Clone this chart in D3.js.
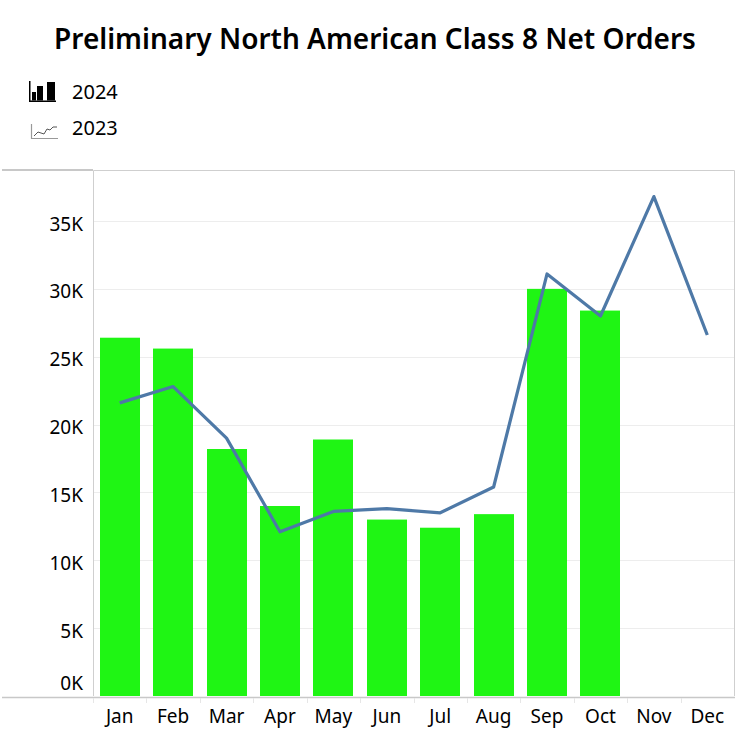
<!DOCTYPE html>
<html>
<head>
<meta charset="utf-8">
<script src="https://cdn.jsdelivr.net/npm/d3@7"></script>
<style>
  body { margin: 0; background: #fff; }
  text { font-family: "Noto Sans", "Open Sans", sans-serif; fill: #000; }
</style>
</head>
<body>
<div id="chart"></div>
<script>
const months = ["Jan", "Feb", "Mar", "Apr", "May", "Jun", "Jul", "Aug", "Sep", "Oct", "Nov", "Dec"];
// 2024 net orders (bars), Jan-Oct
const orders2024 = [26400, 25600, 18200, 14000, 18900, 13000, 12400, 13400, 30000, 28400];
// 2023 net orders (line)
const orders2023 = [21600, 22800, 19000, 12100, 13600, 13800, 13500, 15400, 31100, 28000, 36800, 26600];
const yTicks = [0, 5000, 10000, 15000, 20000, 25000, 30000, 35000];

const W = 749, H = 749;
const plotL = 93, plotR = 734, plotT = 170, plotB = 696;
const font = "'Noto Sans', 'Open Sans', sans-serif";

const svg = d3.select("#chart").append("svg")
  .attr("width", W)
  .attr("height", H);

// title
svg.append("text")
  .attr("x", 375)
  .attr("y", 49)
  .attr("text-anchor", "middle")
  .attr("font-size", 28)
  .attr("font-weight", 600)
  .text("Preliminary North American Class 8 Net Orders");

// legend
const legend = svg.append("g");
const barIcon = legend.append("g").attr("transform", "translate(29,81)");
barIcon.append("rect").attr("x", 0).attr("y", 0).attr("width", 1.5).attr("height", 21).attr("fill", "#000");
barIcon.append("rect").attr("x", 0).attr("y", 19.5).attr("width", 27).attr("height", 1.5).attr("fill", "#000");
[[3, 11, 4], [8, 5, 6], [18, 1, 8]].forEach(([bx, by, bw]) => {
  barIcon.append("rect").attr("x", bx).attr("y", by).attr("width", bw).attr("height", 19.5 - by).attr("fill", "#000");
});
legend.append("text").attr("x", 72).attr("y", 99).attr("font-size", 20).text("2024");

const lineIcon = legend.append("g").attr("transform", "translate(31,124)");
lineIcon.append("path")
  .attr("d", "M0.5,0 V14.5 H27")
  .attr("fill", "none").attr("stroke", "#999").attr("stroke-width", 1.2);
lineIcon.append("path")
  .attr("d", "M3,12 L7,8 L10,9 L13,10 L16,5 L19,6 L22,3 L26,3")
  .attr("fill", "none").attr("stroke", "#555").attr("stroke-width", 1);
legend.append("text").attr("x", 72).attr("y", 135).attr("font-size", 20).text("2023");

// scales
const x = d3.scaleBand().domain(months).range([plotL, plotR]).paddingInner(0.25).paddingOuter(0.125);
const step = x.step();
// 35K sits at y=221 in the reference
const y = d3.scaleLinear().domain([0, 35000]).range([plotB, 221]);

// gridlines
svg.append("g")
  .selectAll("line")
  .data(yTicks.slice(1))
  .join("line")
  .attr("x1", plotL)
  .attr("x2", plotR)
  .attr("y1", d => Math.round(y(d)) + 0.5)
  .attr("y2", d => Math.round(y(d)) + 0.5)
  .attr("stroke", "#ededed")
  .attr("stroke-width", 1);

// frame
svg.append("line").attr("x1", 2).attr("x2", plotL).attr("y1", plotT).attr("y2", plotT)
  .attr("stroke", "#c8c8c8").attr("stroke-width", 2);
svg.append("path")
  .attr("d", `M${plotL + 0.5},${plotB} V${plotT + 0.5} H${plotR + 0.5} V${plotB}`)
  .attr("fill", "none").attr("stroke", "#cfcfcf").attr("stroke-width", 1);

// bars
svg.append("g")
  .selectAll("rect")
  .data(orders2024)
  .join("rect")
  .attr("x", (d, i) => Math.round(x(months[i]) + (x.bandwidth() - 40) / 2))
  .attr("y", d => y(d))
  .attr("width", 40)
  .attr("height", d => plotB - y(d))
  .attr("fill", "#1ff514");

// line
const line = d3.line()
  .x((d, i) => x(months[i]) + x.bandwidth() / 2)
  .y(d => y(d));
svg.append("path")
  .datum(orders2023)
  .attr("d", line)
  .attr("fill", "none")
  .attr("stroke", "#4e79a7")
  .attr("stroke-width", 3.2)
  .attr("stroke-linejoin", "round");

// y axis labels
const yAxis = d3.axisLeft(y)
  .tickValues(yTicks)
  .tickSize(0)
  .tickPadding(10)
  .tickFormat(d => (d / 1000) + "K");
svg.append("g")
  .attr("transform", `translate(${plotL},0)`)
  .call(yAxis)
  .call(g => g.select(".domain").remove())
  .call(g => g.selectAll("text")
    .attr("font-size", 19)
    .attr("font-family", font)
    .attr("fill", "#000")
    .attr("dy", d => d === 0 ? "-0.36em" : "0.48em"));

// x axis
svg.append("line").attr("x1", 2).attr("x2", plotR + 1).attr("y1", plotB + 1.5).attr("y2", plotB + 1.5)
  .attr("stroke", "#c8c8c8").attr("stroke-width", 1.5);
svg.append("g")
  .selectAll("line")
  .data(months)
  .join("line")
  .attr("x1", d => Math.round(x(d) - step * 0.125) + 0.5)
  .attr("x2", d => Math.round(x(d) - step * 0.125) + 0.5)
  .attr("y1", plotB + 2)
  .attr("y2", plotB + 7)
  .attr("stroke", "#e6e6e6");

const xAxis = d3.axisBottom(x).tickSize(0).tickPadding(14);
svg.append("g")
  .attr("transform", `translate(0,${plotB})`)
  .call(xAxis)
  .call(g => g.select(".domain").remove())
  .call(g => g.selectAll("text")
    .attr("font-size", 19)
    .attr("font-family", font)
    .attr("fill", "#000"));
</script>
</body>
</html>
